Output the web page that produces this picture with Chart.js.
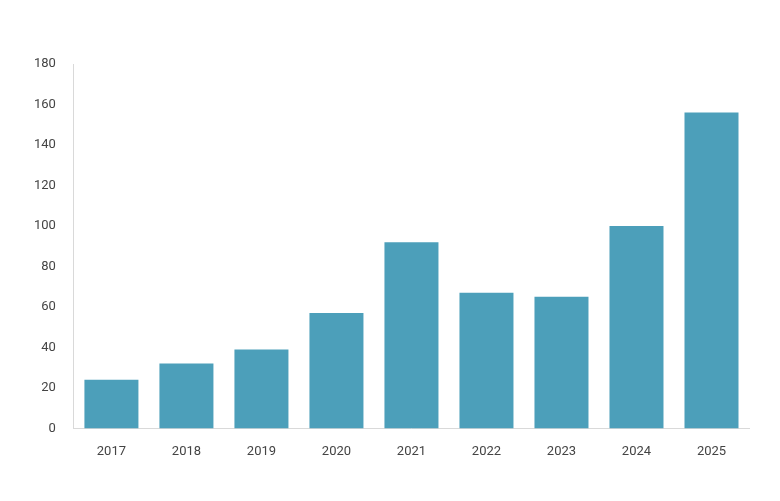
<!DOCTYPE html>
<html>
<head>
<meta charset="utf-8">
<script src="https://cdn.jsdelivr.net/npm/chart.js@4"></script>
<style>
  html, body { margin: 0; padding: 0; background: #fff; }
  #wrap { width: 780px; height: 501px; }
</style>
</head>
<body>
<div id="wrap"><canvas id="chart"></canvas></div>
<script>
const years = ["2017", "2018", "2019", "2020", "2021", "2022", "2023", "2024", "2025"];
const counts = [24, 32, 39, 57, 92, 67, 65, 100, 156];

const ctx = document.getElementById("chart").getContext("2d");
new Chart(ctx, {
    type: "bar",
    data: {
        labels: years,
        datasets: [{
            data: counts,
            backgroundColor: "#4c9fba",
            barPercentage: 0.72,
            categoryPercentage: 1
        }]
    },
    options: {
        responsive: true,
        maintainAspectRatio: false,
        animation: false,
        layout: { padding: { top: 64, right: 31, bottom: 33, left: 24 } },
        plugins: { legend: { display: false }, tooltip: { enabled: false } },
        scales: {
            x: {
                grid: { display: false },
                border: { color: "#d9d9d9" },
                ticks: { color: "#444", font: { family: "Roboto", size: 13 }, padding: 8 }
            },
            y: {
                min: 0,
                max: 180,
                grid: { display: false },
                border: { color: "#d9d9d9" },
                ticks: { stepSize: 20, color: "#444", font: { family: "Roboto", size: 13 }, padding: 10 }
            }
        }
    }
});
</script>
</body>
</html>
